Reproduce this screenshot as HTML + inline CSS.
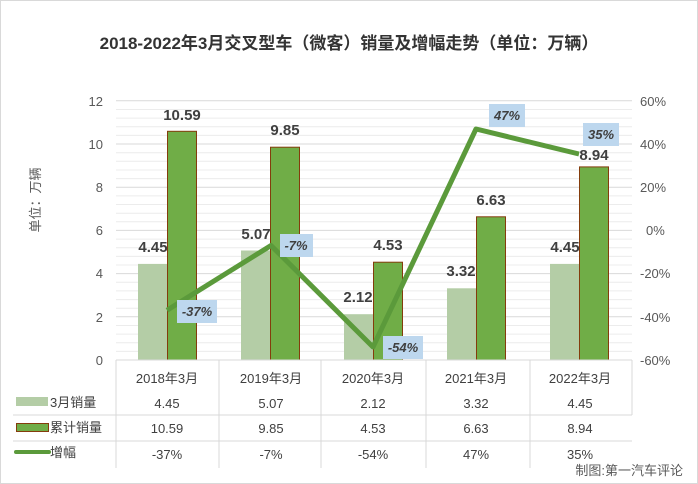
<!DOCTYPE html>
<html><head><meta charset="utf-8"><style>
body{margin:0;background:#fff}
svg{display:block;font-family:"Liberation Sans","Noto Sans CJK SC",sans-serif}
</style></head><body>
<svg width="698" height="484" viewBox="0 0 698 484">
<rect x="0.5" y="0.5" width="697" height="483" fill="#fff" stroke="#d9d9d9"/>
<text x="349" y="49" text-anchor="middle" font-size="17" fill="#333" font-weight="bold">2018-2022年3月交叉型车（微客）销量及增幅走势（单位：万辆）</text>
<g stroke="#ececec" stroke-width="1">
<line x1="116" x2="632" y1="351.4" y2="351.4"/><line x1="116" x2="632" y1="342.7" y2="342.7"/><line x1="116" x2="632" y1="334.1" y2="334.1"/><line x1="116" x2="632" y1="325.5" y2="325.5"/>
<line x1="116" x2="632" y1="308.2" y2="308.2"/><line x1="116" x2="632" y1="299.6" y2="299.6"/><line x1="116" x2="632" y1="290.9" y2="290.9"/><line x1="116" x2="632" y1="282.3" y2="282.3"/>
<line x1="116" x2="632" y1="265" y2="265"/><line x1="116" x2="632" y1="256.4" y2="256.4"/><line x1="116" x2="632" y1="247.7" y2="247.7"/><line x1="116" x2="632" y1="239.1" y2="239.1"/>
<line x1="116" x2="632" y1="221.8" y2="221.8"/><line x1="116" x2="632" y1="213.2" y2="213.2"/><line x1="116" x2="632" y1="204.5" y2="204.5"/><line x1="116" x2="632" y1="195.9" y2="195.9"/>
<line x1="116" x2="632" y1="178.6" y2="178.6"/><line x1="116" x2="632" y1="170" y2="170"/><line x1="116" x2="632" y1="161.3" y2="161.3"/><line x1="116" x2="632" y1="152.7" y2="152.7"/>
<line x1="116" x2="632" y1="135.4" y2="135.4"/><line x1="116" x2="632" y1="126.8" y2="126.8"/><line x1="116" x2="632" y1="118.1" y2="118.1"/><line x1="116" x2="632" y1="109.5" y2="109.5"/>
</g>
<g stroke="#d9d9d9" stroke-width="1">
<line x1="116" x2="632" y1="316.8" y2="316.8"/><line x1="116" x2="632" y1="273.6" y2="273.6"/><line x1="116" x2="632" y1="230.4" y2="230.4"/><line x1="116" x2="632" y1="187.2" y2="187.2"/><line x1="116" x2="632" y1="144" y2="144"/><line x1="116" x2="632" y1="100.8" y2="100.8"/>
</g>
<g font-size="13" fill="#595959" text-anchor="end">
<text x="103" y="365">0</text><text x="103" y="322">2</text><text x="103" y="278">4</text><text x="103" y="235">6</text><text x="103" y="192">8</text><text x="103" y="149">10</text><text x="103" y="106">12</text>
</g>
<g font-size="13" fill="#595959" text-anchor="start">
<text x="640" y="365">-60%</text><text x="640" y="322">-40%</text><text x="640" y="278">-20%</text><text x="646" y="235">0%</text><text x="640" y="192">20%</text><text x="640" y="149">40%</text><text x="640" y="106">60%</text>
</g>
<text transform="translate(40,200) rotate(-90)" text-anchor="middle" font-size="13" fill="#595959">单位：万辆</text>
<g fill="#b4cda6">
<rect x="138" y="263.9" width="29" height="96.1"/><rect x="241" y="250.5" width="29" height="109.5"/><rect x="344" y="314.2" width="29" height="45.8"/><rect x="447" y="288.3" width="29" height="71.7"/><rect x="550" y="263.9" width="29" height="96.1"/>
</g>
<g fill="#70ad47" stroke="#843c0c" stroke-width="1">
<rect x="167.5" y="131.3" width="29" height="228.7"/><rect x="270.5" y="147.2" width="29" height="212.8"/><rect x="373.5" y="262.2" width="29" height="97.8"/><rect x="476.5" y="216.8" width="29" height="143.2"/><rect x="579.5" y="166.9" width="29" height="193.1"/>
</g>
<line x1="116" x2="632" y1="360" y2="360" stroke="#d9d9d9"/>
<polyline points="167,310.3 271,245.5 373,347 476,129 579,154" fill="none" stroke="#5b9a3b" stroke-width="5" stroke-linejoin="round"/>
<g font-size="15" font-weight="bold" fill="#404040" text-anchor="middle">
<text x="153" y="252">4.45</text><text x="256" y="239">5.07</text><text x="358" y="302">2.12</text><text x="461" y="276">3.32</text><text x="565" y="252">4.45</text>
<text x="182" y="120">10.59</text><text x="285" y="135">9.85</text><text x="388" y="250">4.53</text><text x="491" y="205">6.63</text><text x="594" y="160">8.94</text>
</g>
<g fill="#bdd7ee"><rect x="177" y="300" width="40" height="23"/><rect x="280" y="234" width="33" height="23"/><rect x="383" y="336" width="40" height="23"/><rect x="489" y="104" width="36" height="23"/><rect x="583" y="123" width="36" height="23"/></g>
<g font-size="13" font-weight="bold" font-style="italic" fill="#404040" text-anchor="middle">
<text x="197" y="316">-37%</text><text x="296" y="250">-7%</text><text x="403" y="352">-54%</text><text x="507" y="120">47%</text><text x="601" y="139">35%</text>
</g>
<g stroke="#d9d9d9">
<line x1="116" x2="116" y1="360" y2="468"/><line x1="219" x2="219" y1="360" y2="468"/><line x1="321" x2="321" y1="360" y2="468"/><line x1="426" x2="426" y1="360" y2="468"/><line x1="530" x2="530" y1="360" y2="468"/><line x1="632" x2="632" y1="360" y2="415"/>
<line x1="13" x2="632" y1="415" y2="415"/><line x1="13" x2="632" y1="441" y2="441"/>
</g>
<g font-size="13" fill="#404040" text-anchor="middle">
<text x="167" y="383">2018年3月</text><text x="271" y="383">2019年3月</text><text x="373" y="383">2020年3月</text><text x="476" y="383">2021年3月</text><text x="580" y="383">2022年3月</text>
<text x="167" y="408">4.45</text><text x="271" y="408">5.07</text><text x="373" y="408">2.12</text><text x="476" y="408">3.32</text><text x="580" y="408">4.45</text>
<text x="167" y="433">10.59</text><text x="271" y="433">9.85</text><text x="373" y="433">4.53</text><text x="476" y="433">6.63</text><text x="580" y="433">8.94</text>
<text x="167" y="459">-37%</text><text x="271" y="459">-7%</text><text x="373" y="459">-54%</text><text x="476" y="459">47%</text><text x="580" y="459">35%</text>
</g>
<rect x="16" y="397" width="32" height="9" fill="#b4cda6"/>
<rect x="16.5" y="423.5" width="32" height="8" fill="#70ad47" stroke="#843c0c"/>
<line x1="16" x2="49" y1="452" y2="452" stroke="#5b9a3b" stroke-width="4" stroke-linecap="round"/>
<g font-size="13" fill="#404040"><text x="50" y="407">3月销量</text><text x="50" y="432">累计销量</text><text x="50" y="457">增幅</text></g>
<text x="683" y="475" text-anchor="end" font-size="13" fill="#595959">制图:第一汽车评论</text>
</svg>
</body></html>
